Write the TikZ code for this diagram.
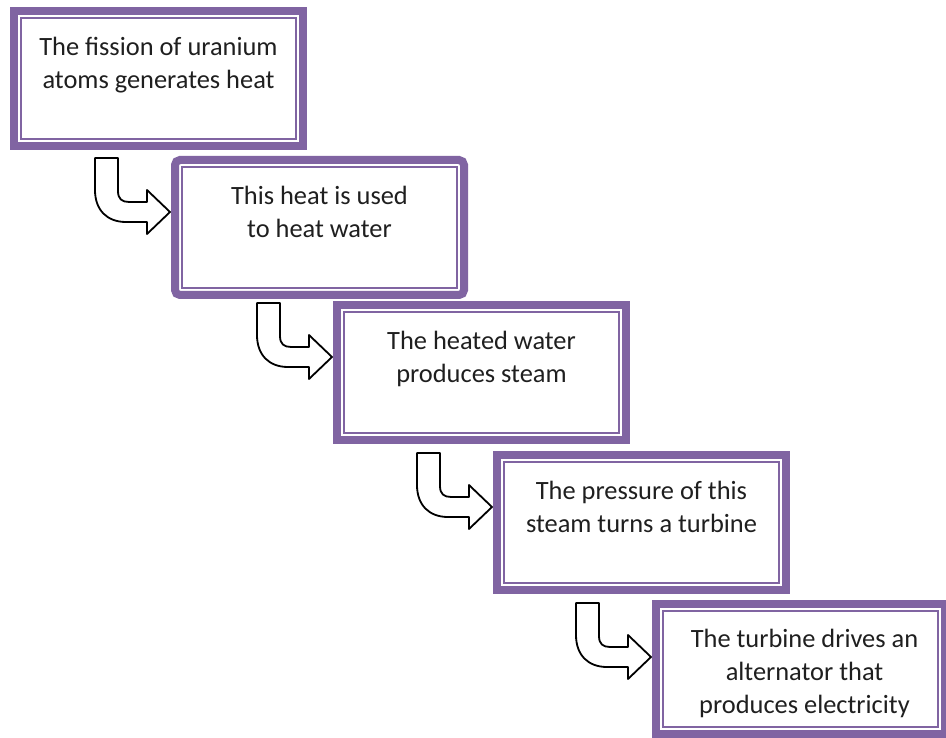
\documentclass[tikz,border=0pt]{standalone}
\usepackage{fontspec}
\setmainfont{Carlito}
\usetikzlibrary{calc}
\definecolor{frame}{HTML}{8064A2}
\begin{document}
\begin{tikzpicture}[x=1pt,y=-1pt,
  box/.style={draw=frame, line width=8pt, minimum width=289pt, minimum height=135pt,
    inner sep=0pt, outer sep=0pt, anchor=north west},
  innerline/.style={draw=frame, line width=1.8pt},
  lbl/.style={anchor=north, align=center, inner sep=0pt,
    font=\fontsize{26.4}{33}\selectfont, text=black!88},
  barrow/.style={draw=black, line width=1.8pt, fill=white, line join=round},
  bentarrow/.pic={\draw[barrow] (-75,-54) -- (-52,-54) -- (-52,-21)
      .. controls (-52,-13) and (-48,-10) .. (-41,-10) -- (-23,-10) -- (-23,-22)
      -- (0,0) -- (-23,22) -- (-23,10) -- (-44,10)
      .. controls (-63,10) and (-75,-2) .. (-75,-22) -- cycle;}]
\useasboundingbox (0,0) rectangle (946,738);
\clip (0,0) rectangle (946,738);
\fill[white] (0,0) rectangle (946,738);
% boxes (positions are outer corner + half line width)
\node[box] (b1) at (14,11) {};
\node[box, rounded corners=5pt] (b2) at (175,160) {};
\node[box] (b3) at (337,305) {};
\node[box] (b4) at (497,455) {};
\node[box, minimum height=130pt] (b5) at (656,604) {};
\foreach \n in {b1,b3,b4,b5}
  \draw[innerline] ($(\n.north west)+(7,7)$) rectangle ($(\n.south east)+(-7,-7)$);
\draw[innerline] ($(b2.north west)+(7,7)$) rectangle ($(b2.south east)+(-7,-7)$);
% labels
\node[lbl] (t1) at ($(b1.north)+(0,26)$) {The fission of uranium\\atoms generates heat};
\node[lbl] (t2) at ($(b2.north)+(0,26)$) {This heat is used\\to heat water};
\node[lbl] (t3) at ($(b3.north)+(0,26)$) {The heated water\\produces steam};
\node[lbl] (t4) at ($(b4.north)+(0,26)$) {The pressure of this\\steam turns a turbine};
\node[lbl] (t5) at ($(b5.north)+(4,25)$) {The turbine drives an\\alternator that\\produces electricity};
% bent arrows
\coordinate (p1) at ($(b2.north west)+(-5,52)$);
\coordinate (p2) at ($(b3.north west)+(-5,52)$);
\coordinate (p3) at ($(b4.north west)+(-5,52)$);
\coordinate (p4) at ($(b5.north west)+(-5,53)$);
\foreach \p in {p1,p2,p3,p4}
  \pic at (\p) {bentarrow};
\end{tikzpicture}
\end{document}
